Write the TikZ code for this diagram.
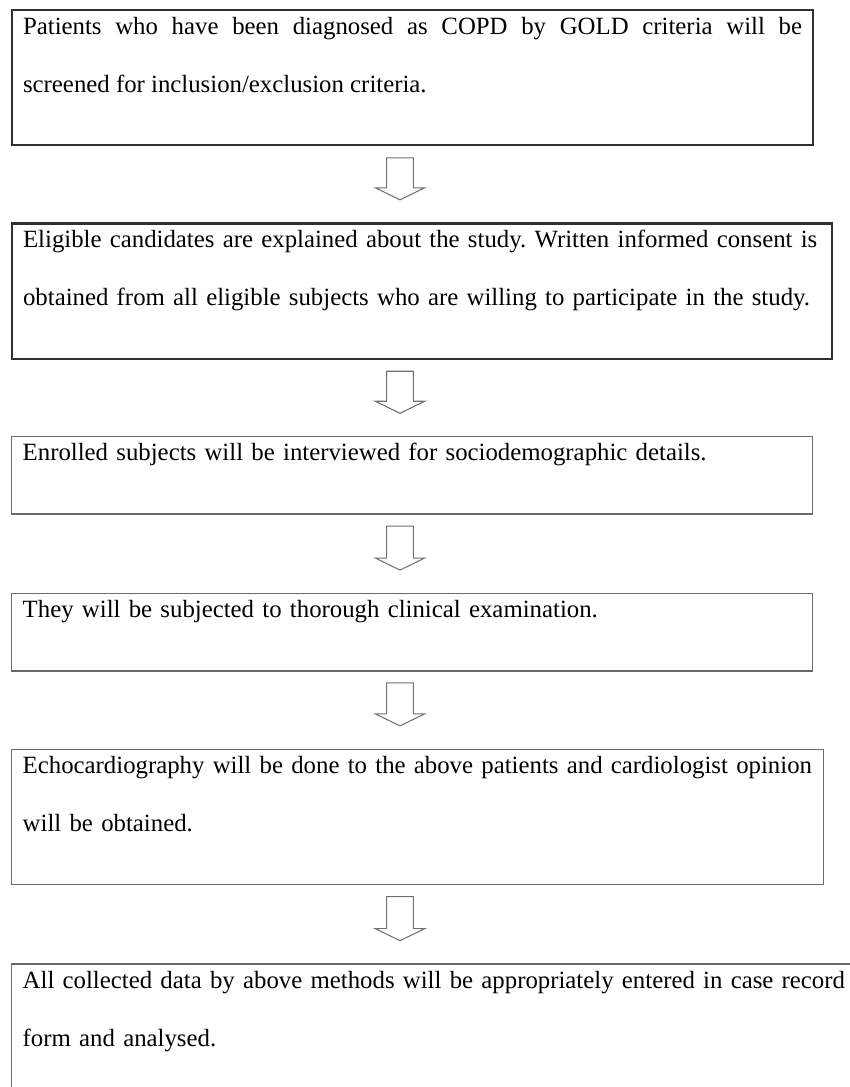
\documentclass[tikz,border=0pt]{standalone}
\usepackage{fontspec}
\setmainfont{Liberation Serif}
\usepackage{tikz}
\usetikzlibrary{positioning,calc}
\definecolor{boxdark}{HTML}{303030}
\definecolor{boxgrey}{HTML}{6A6A6A}
\definecolor{arrowgrey}{HTML}{707070}
\newcommand{\firstline}{\rule{0pt}{14pt}}
\newcommand{\lastline}{\rule[-36pt]{0pt}{36pt}}
\newcommand{\flowarrow}[2]{%
  \draw[blockarrow] ($(axis |- #1.south)+(-10pt,-8.5pt)$) -- ($(axis |- #2.north)+(-10pt,26pt)$)
    -- ++(-8.5pt,0) -- ($(axis |- #2.north)+(0,17pt)$) -- ($(axis |- #2.north)+(18.5pt,26pt)$)
    -- ++(-8.5pt,0) -- ($(axis |- #1.south)+(10pt,-8.5pt)$) -- cycle;}
\frenchspacing
\hyphenpenalty=10000

\begin{document}
\begin{tikzpicture}[
      x=0.75pt, y=-0.75pt,
      flowbox/.style={rectangle, draw=boxgrey, line width=1.1pt, anchor=north west,
                      align=left, inner xsep=8.25pt, inner ysep=4pt,
                      font=\fontsize{18.6}{43.5}\selectfont},
      heavy/.style={draw=boxdark, line width=1.6pt},
      blockarrow/.style={draw=arrowgrey, line width=0.8pt, line join=miter},
    ]
    \useasboundingbox (0,0) rectangle (849,1087);
    \coordinate (axis) at (400,0);

    \node[flowbox, heavy, align=justify, text width=584.25pt] (box1) at (11,9)
      {\firstline Patients who have been diagnosed as COPD by GOLD criteria will be\linebreak
       screened for inclusion/exclusion criteria.\lastline};
    \node[flowbox, heavy, text width=598.5pt, below=57pt of box1.south west, anchor=north west] (box2)
      {\firstline Eligible candidates are explained about the study. Written informed consent is\\
       obtained from all eligible subjects who are willing to participate in the study.\lastline};
    \node[flowbox, text width=584.25pt, below=57pt of box2.south west, anchor=north west] (box3)
      {\firstline Enrolled subjects will be interviewed for sociodemographic details.\lastline};
    \node[flowbox, text width=584.25pt, below=58.5pt of box3.south west, anchor=north west] (box4)
      {\firstline They will be subjected to thorough clinical examination.\lastline};
    \node[flowbox, text width=592.5pt, below=57.75pt of box4.south west, anchor=north west] (box5)
      {\firstline Echocardiography will be done to the above patients and cardiologist opinion\\
       will be obtained.\lastline};
    \node[flowbox, text width=636pt, below=58.5pt of box5.south west, anchor=north west] (box6)
      {\firstline All collected data by above methods will be appropriately entered in case record\\
       form and analysed.\lastline};

    \flowarrow{box1}{box2}
    \flowarrow{box2}{box3}
    \flowarrow{box3}{box4}
    \flowarrow{box4}{box5}
    \flowarrow{box5}{box6}
  \end{tikzpicture}
\end{document}
